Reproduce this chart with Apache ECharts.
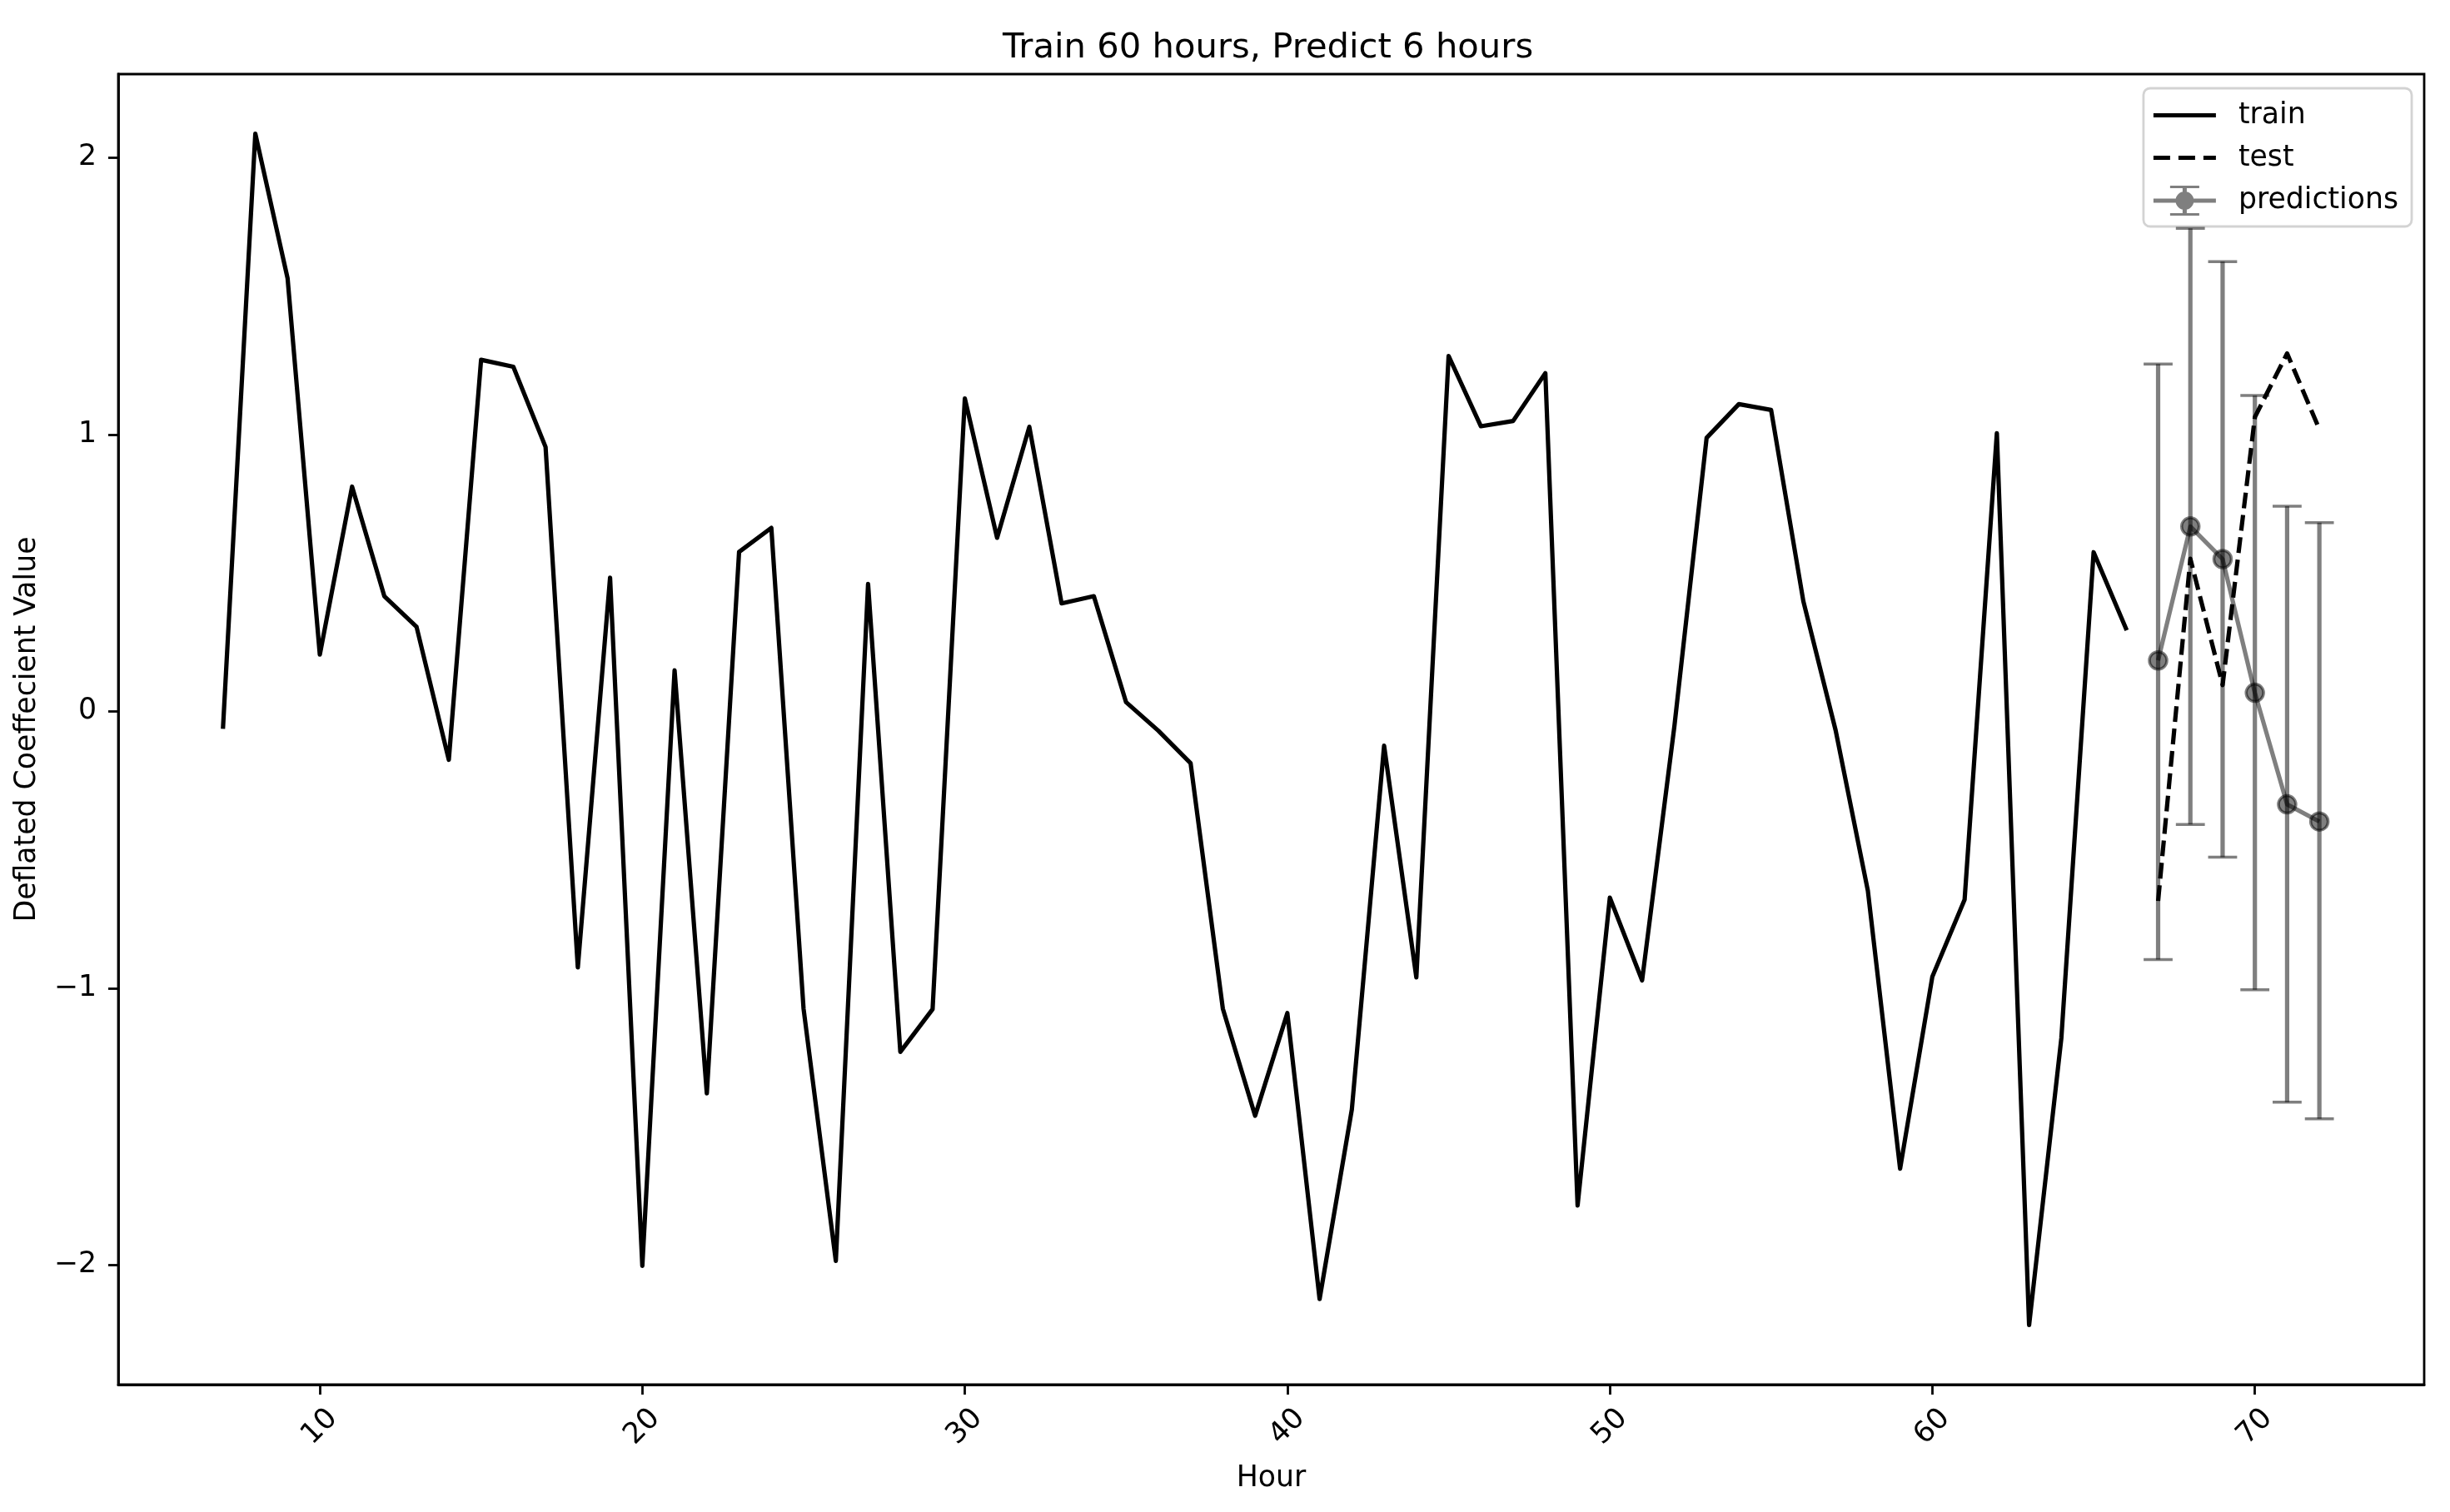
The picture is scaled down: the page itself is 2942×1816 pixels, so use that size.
<!DOCTYPE html>
<html>
<head>
<meta charset="utf-8">
<script src="https://cdn.jsdelivr.net/npm/echarts@6/dist/echarts.min.js"></script>
<style>
html,body{margin:0;padding:0;background:#fff;}
#chart{width:2942px;height:1816px;}
</style>
</head>
<body>
<div id="chart"></div>
<script>
// ---- data ----
const trainHours = [7,8,9,10,11,12,13,14,15,16,17,18,19,20,21,22,23,24,25,26,27,28,29,30,31,32,33,34,35,36,37,38,39,40,41,42,43,44,45,46,47,48,49,50,51,52,53,54,55,56,57,58,59,60,61,62,63,64,65,66];
const trainValues = [-0.055,2.087,1.565,0.205,0.812,0.416,0.305,-0.175,1.27,1.245,0.955,-0.925,0.483,-2.003,0.148,-1.38,0.576,0.663,-1.075,-1.985,0.46,-1.23,-1.076,1.13,0.627,1.028,0.39,0.416,0.033,-0.07,-0.187,-1.074,-1.461,-1.09,-2.123,-1.438,-0.124,-0.961,1.284,1.03,1.049,1.222,-1.785,-0.673,-0.972,-0.055,0.988,1.11,1.089,0.398,-0.068,-0.648,-1.652,-0.958,-0.68,1.005,-2.217,-1.18,0.575,0.30];
const testHours = [67,68,69,70,71,72];
const testValues = [-0.685,0.551,0.095,1.063,1.293,1.019];
const predValues = [0.184,0.668,0.55,0.067,-0.336,-0.398];
const predLower = [-0.897,-0.409,-0.527,-1.006,-1.412,-1.472];
const predUpper = [1.255,1.745,1.625,1.141,0.741,0.682];
const xTicks = [10,20,30,40,50,60,70];
const yTicks = [-2,-1,0,1,2];
const titleText = 'Train 60 hours, Predict 6 hours';
const xName = 'Hour';
const yName = 'Deflated Coeffecient Value';
const seriesNames = ['train','test','predictions'];

// ---- axis extents with 5% margins (matplotlib-like) ----
const allX = trainHours.concat(testHours);
const allY = trainValues.concat(testValues, predValues, predLower, predUpper);
const xMinD = Math.min(...allX), xMaxD = Math.max(...allX);
const yMinD = Math.min(...allY), yMaxD = Math.max(...allY);
const xPad = (xMaxD - xMinD) * 0.05, yPad = (yMaxD - yMinD) * 0.05;

const FONT = 'DejaVu Sans';
const LW = 5.2;
const GRAY = 'rgba(0,0,0,0.5)';

const trainData = trainHours.map((h, i) => [h, trainValues[i]]);
const testData = testHours.map((h, i) => [h, testValues[i]]);
const predData = testHours.map((h, i) => [h, predValues[i]]);
const errData = testHours.map((h, i) => [h, predLower[i], predUpper[i]]);

const trainIcon = 'path://M0,0 L75,0 L75,5.2 L0,5.2 Z';
const testIcon = 'path://M0,0 L20,0 L20,5.2 L0,5.2 Z M30,0 L50,0 L50,5.2 L30,5.2 Z M60,0 L75,0 L75,5.2 L60,5.2 Z';
const predIcon = 'path://M0,15.5 L75,15.5 L75,20.5 L0,20.5 Z ' +
  'M35,0 L40,0 L40,36 L35,36 Z ' +
  'M20,0 L55,0 L55,3 L20,3 Z M20,33 L55,33 L55,36 L20,36 Z ' +
  'M26.5,18 A11,11 0 1,1 48.5,18 A11,11 0 1,1 26.5,18 Z';

const chart = echarts.init(document.getElementById('chart'), null, {renderer: 'canvas'});
chart.setOption({
  backgroundColor: '#ffffff',
  animation: false,
  textStyle: {fontFamily: FONT, color: '#000'},
  title: {
    text: titleText,
    left: 1204,
    top: 37,
    padding: 0,
    textStyle: {fontFamily: FONT, fontSize: 41.7, fontWeight: 'normal', color: '#000', lineHeight: 42}
  },
  grid: {
    left: 142, right: 31, top: 89, bottom: 153,
    show: true, borderColor: '#000', borderWidth: 2.8, backgroundColor: 'transparent'
  },
  legend: {
    orient: 'vertical',
    right: 46,
    top: 106,
    padding: [15, 16, 13, 12],
    itemGap: 16,
    itemWidth: 75,
    itemHeight: 36,
    symbolKeepAspect: true,
    backgroundColor: 'rgba(255,255,255,0.8)',
    borderColor: '#d3d3d3',
    borderWidth: 2.8,
    borderRadius: 8,
    textStyle: {fontFamily: FONT, fontSize: 34.7, color: '#000', padding: [0, 0, 0, 22]},
    data: [
      {name: seriesNames[0], icon: trainIcon, itemStyle: {color: '#000', borderWidth: 0}},
      {name: seriesNames[1], icon: testIcon, itemStyle: {color: '#000', borderWidth: 0}},
      {name: seriesNames[2], icon: predIcon, itemStyle: {color: GRAY, borderWidth: 0}}
    ]
  },
  xAxis: {
    type: 'value',
    min: xMinD - xPad,
    max: xMaxD + xPad,
    name: xName,
    nameLocation: 'middle',
    nameGap: 95,
    nameTextStyle: {fontFamily: FONT, fontSize: 34.7, color: '#000'},
    axisLine: {show: true, onZero: false, lineStyle: {color: '#000', width: 2.8}},
    axisTick: {show: true, length: 12, inside: false, customValues: xTicks, lineStyle: {color: '#000', width: 2.8}},
    axisLabel: {
      show: true, customValues: xTicks, rotate: 45, align: 'center', verticalAlign: 'middle', margin: 51,
      fontFamily: FONT, fontSize: 34.7, color: '#000'
    },
    splitLine: {show: false}
  },
  yAxis: {
    type: 'value',
    min: yMinD - yPad,
    max: yMaxD + yPad,
    name: yName,
    nameLocation: 'middle',
    nameRotate: 90,
    nameGap: 92,
    nameTextStyle: {fontFamily: FONT, fontSize: 34.7, color: '#000'},
    axisLine: {show: true, onZero: false, lineStyle: {color: '#000', width: 2.8}},
    axisTick: {show: true, length: 12, inside: false, customValues: yTicks, lineStyle: {color: '#000', width: 2.8}},
    axisLabel: {
      show: true, customValues: yTicks, margin: 26,
      fontFamily: FONT, fontSize: 34.7, color: '#000',
      formatter: v => String(v).replace('-', '\u2212')
    },
    splitLine: {show: false}
  },
  series: [
    {
      name: seriesNames[0], type: 'line', data: trainData, symbol: 'none', z: 3,
      lineStyle: {color: '#000', width: LW, cap: 'square', join: 'round'},
      itemStyle: {color: '#000'}
    },
    {
      name: seriesNames[1], type: 'line', data: testData, symbol: 'none', z: 3,
      lineStyle: {color: '#000', width: LW, type: [19, 8], cap: 'butt', join: 'round'},
      itemStyle: {color: '#000'}
    },
    {
      name: 'errbars', type: 'custom', data: errData, z: 4,
      encode: {x: 0, y: [1, 2]},
      renderItem: function (params, api) {
        const x = api.value(0), lo = api.value(1), hi = api.value(2);
        const pLo = api.coord([x, lo]), pHi = api.coord([x, hi]);
        const cap = 17.4;
        return {
          type: 'group',
          children: [
            {type: 'line', shape: {x1: pLo[0], y1: pLo[1], x2: pHi[0], y2: pHi[1]}, style: {stroke: GRAY, lineWidth: LW, lineCap: 'butt'}},
            {type: 'line', shape: {x1: pLo[0] - cap, y1: pLo[1], x2: pLo[0] + cap, y2: pLo[1]}, style: {stroke: GRAY, lineWidth: 3.5}},
            {type: 'line', shape: {x1: pHi[0] - cap, y1: pHi[1], x2: pHi[0] + cap, y2: pHi[1]}, style: {stroke: GRAY, lineWidth: 3.5}}
          ]
        };
      }
    },
    {
      name: seriesNames[2], type: 'line', data: predData, z: 5,
      symbol: 'circle', symbolSize: 21, showAllSymbol: true,
      lineStyle: {color: GRAY, width: LW, join: 'round'},
      itemStyle: {color: GRAY, borderColor: GRAY, borderWidth: 3.5}
    }
  ]
});
</script>
</body>
</html>
